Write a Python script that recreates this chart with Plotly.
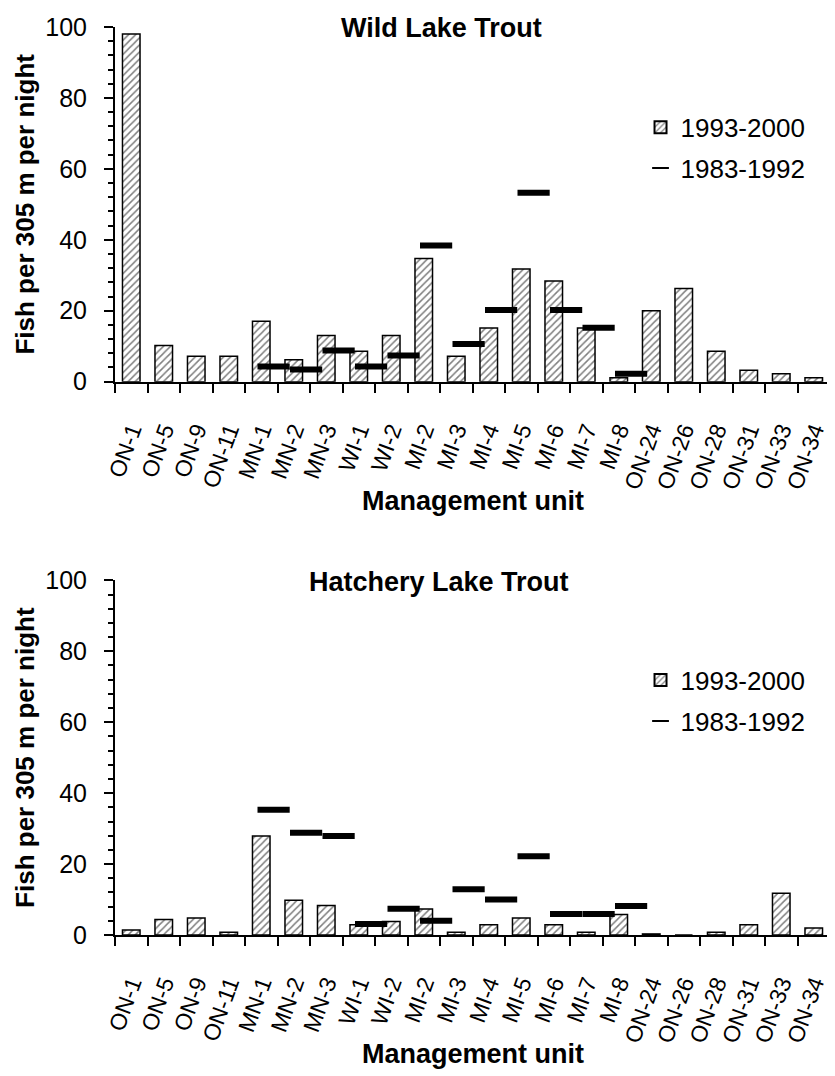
import plotly.graph_objects as go
from plotly.subplots import make_subplots

units = ["ON-1", "ON-5", "ON-9", "ON-11", "MN-1", "MN-2", "MN-3", "WI-1", "WI-2",
         "MI-2", "MI-3", "MI-4", "MI-5", "MI-6", "MI-7", "MI-8", "ON-24", "ON-26",
         "ON-28", "ON-31", "ON-33", "ON-34"]

wild_1993_2000 = [98.0, 10.2, 7.2, 7.2, 17.0, 6.2, 13.0, 8.6, 13.0, 34.7, 7.2, 15.1,
                  31.8, 28.4, 15.1, 1.1, 20.0, 26.3, 8.6, 3.2, 2.2, 1.1]
hatch_1993_2000 = [1.4, 4.4, 4.8, 0.8, 27.9, 9.8, 8.3, 2.9, 3.8, 7.3, 0.8, 2.9,
                   4.8, 2.9, 0.8, 5.8, 0.3, 0.0, 0.8, 2.9, 11.8, 2.0]

early_units = ["MN-1", "MN-2", "MN-3", "WI-1", "WI-2", "MI-2", "MI-3", "MI-4",
               "MI-5", "MI-6", "MI-7", "MI-8"]
wild_1983_1992 = [4.3, 3.4, 8.8, 4.3, 7.4, 38.4, 10.6, 20.2, 53.3, 20.2, 15.2, 2.2]
hatch_1983_1992 = [35.3, 28.8, 27.9, 3.1, 7.4, 4.0, 12.9, 10.0, 22.2, 5.9, 5.9, 8.2]

y_ticks = [0, 20, 40, 60, 80, 100]

FONT = "Liberation Sans, Arial, sans-serif"
pos = list(range(len(units)))
early_shift = 0.38
early_pos = [units.index(u) + early_shift for u in early_units]

fig = make_subplots(rows=2, cols=1, vertical_spacing=0.2188)

panels = [
    (1, wild_1993_2000, wild_1983_1992, "legend"),
    (2, hatch_1993_2000, hatch_1983_1992, "legend2"),
]

for row, recent, early, leg in panels:
    fig.add_trace(go.Bar(
        x=pos, y=recent, name="1993-2000", width=0.54,
        marker=dict(color="white", line=dict(color="black", width=1.5),
                    pattern=dict(shape="/", fgcolor="black", bgcolor="white",
                                 size=5, solidity=0.3)),
        legend=leg, legendgroup="a" + leg, showlegend=True,
    ), row=row, col=1)
    fig.add_trace(go.Scatter(
        x=early_pos, y=early, name="1983-1992", mode="markers",
        marker=dict(symbol="line-ew", size=23, color="black",
                    line=dict(color="black", width=6)),
        legend=leg, legendgroup="b" + leg, showlegend=True,
    ), row=row, col=1)

for row in (1, 2):
    fig.update_xaxes(
        row=row, col=1, range=[-0.5, len(units) - 0.5],
        tickmode="array", tickvals=pos, ticktext=units, ticks="",
        tickangle=-70, ticklabelstandoff=24,
        tickfont=dict(family=FONT, size=23, color="black"),
        showline=True, linecolor="black", linewidth=2, showgrid=False, zeroline=False,
        minor=dict(ticks="outside", tick0=-0.5, dtick=1, ticklen=9,
                   tickwidth=1.5, tickcolor="black", showgrid=False),
    )
    fig.update_yaxes(
        row=row, col=1, range=[0, 100], tickmode="array", tickvals=y_ticks,
        ticks="outside", ticklen=9, tickwidth=1.5, tickcolor="black",
        ticklabelstandoff=12,
        tickfont=dict(family=FONT, size=25, color="black"),
        showline=True, linecolor="black", linewidth=2, showgrid=False, zeroline=False,
        minor=dict(ticks="outside", dtick=4, tick0=0, ticklen=5, tickwidth=1.5,
                   tickcolor="black", showgrid=False),
        title=dict(text="<b>Fish per 305 m per night</b>", standoff=3,
                   font=dict(family=FONT, size=26, color="black")),
    )

def label(text, x, y, size):
    return dict(text="<b>" + text + "</b>", xref="paper", yref="paper",
                x=x, y=y, xanchor="center", yanchor="middle", showarrow=False,
                font=dict(family=FONT, size=size, color="black"))

fig.update_layout(
    width=827, height=1068,
    margin=dict(l=107, r=5, t=13, b=141),
    paper_bgcolor="white", plot_bgcolor="white",
    showlegend=True, bargap=0.46,
    font=dict(family=FONT, color="black"),
    legend=dict(x=0.735, y=0.9155, xanchor="left", yanchor="top",
                itemsizing="constant",
                font=dict(family=FONT, size=26, color="black"),
                tracegroupgap=4, bgcolor="rgba(0,0,0,0)"),
    legend2=dict(x=0.735, y=0.3065, xanchor="left", yanchor="top",
                 itemsizing="constant",
                 font=dict(family=FONT, size=26, color="black"),
                 tracegroupgap=4, bgcolor="rgba(0,0,0,0)"),
    annotations=[
        label("Wild Lake Trout", 0.456, 0.999, 27),
        label("Hatchery Lake Trout", 0.453, 0.389, 27),
        label("Management unit", 0.5, 0.478, 27),
        label("Management unit", 0.5, -0.131, 27),
    ],
)

fig.write_html("out.html")
